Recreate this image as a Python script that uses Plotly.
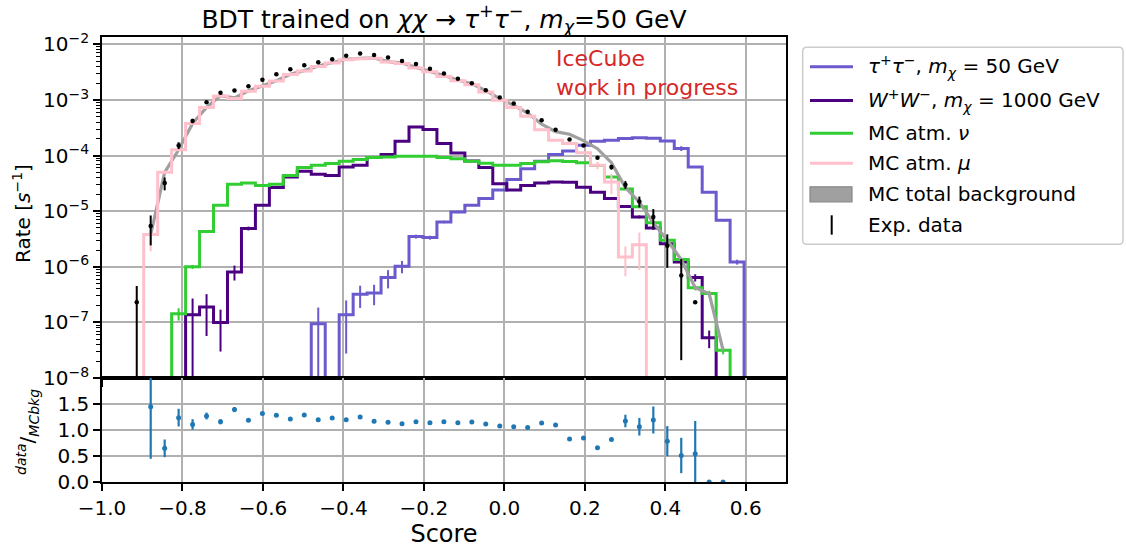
import numpy as np
import plotly.graph_objects as go
from plotly.subplots import make_subplots

# ---------------- data ----------------
BIN_LO, BIN_HI, N_BINS = -0.931, 0.5958, 44

tau_tau = [0, 0, 0, 0, 0, 0, 0, 0, 0, 0, 0, 0, 0, 9.5e-8, 0, 1.38e-7, 3.2e-7, 3.4e-7, 6.4e-7, 1.02e-6,
           3.5e-6, 3.35e-6, 6.4e-6, 9.7e-6, 1.28e-5, 1.69e-5, 2.4e-5, 3.7e-5, 5.8e-5, 7.9e-5,
           1.04e-4, 1.21e-4, 1.53e-4, 1.8e-4, 1.88e-4, 2.02e-4, 2.1e-4, 2.05e-4, 1.83e-4, 1.34e-4,
           6.2e-5, 2.2e-5, 6.9e-6, 1.22e-6]
tau_tau_relerr = [0]*13 + [0.95, 0, 0.8, 0.43, 0.4, 0.36, 0.25, 0.08, 0.08, 0.05, 0.05] + [0]*15 + [0.1, 0, 0, 0.05, 0.1]

ww = [0, 0, 0, 0, 1.38e-7, 1.9e-7, 1.0e-7, 8.1e-7, 4.9e-6, 1.28e-5, 2.66e-5, 4.1e-5, 5.2e-5, 4.6e-5,
      4.4e-5, 6.2e-5, 6.7e-5, 9.2e-5, 1.04e-4, 1.8e-4, 3.27e-4, 2.93e-4, 1.64e-4, 1.11e-4, 8.0e-5,
      6.1e-5, 3.1e-5, 2.4e-5, 2.9e-5, 3.2e-5, 3.35e-5, 3.3e-5, 2.7e-5, 2.2e-5, 1.69e-5, 1.22e-5,
      7.9e-6, 5.0e-6, 2.6e-6, 1.22e-6, 6.4e-7, 5.3e-8, 0, 0]
ww_relerr = [0, 0, 0, 0, 0.95, 0.7, 0.7, 0.3, 0.08] + [0]*27 + [0.06, 0.08, 0.1, 0.12, 0.15, 0.35, 0, 0]

atm_nu = [0, 0, 0, 1.44e-7, 1.0e-6, 4.3e-6, 1.28e-5, 3.05e-5, 3.2e-5, 2.9e-5, 3.05e-5, 4.4e-5, 6.1e-5,
          6.7e-5, 7.2e-5, 7.9e-5, 8.5e-5, 9.2e-5, 9.4e-5, 9.7e-5, 9.7e-5, 9.7e-5, 9.2e-5, 8.8e-5,
          7.9e-5, 7.3e-5, 6.7e-5, 6.7e-5, 7.2e-5, 7.7e-5, 8.1e-5, 7.8e-5, 7.4e-5, 6.6e-5, 4.1e-5,
          2.5e-5, 1.2e-5, 6.2e-6, 3.0e-6, 1.35e-6, 4.2e-7, 3.3e-7, 3.15e-8, 0]
atm_nu_relerr = [0, 0, 0, 0.25, 0.08] + [0]*32 + [0.05, 0.06, 0.08, 0.1, 0.12, 0.15, 0]

atm_mu = [0, 3.8e-6, 5.0e-5, 1.27e-4, 3.77e-4, 7.3e-4, 1.18e-3, 1.06e-3, 1.43e-3, 1.76e-3, 2.19e-3,
          2.85e-3, 3.3e-3, 4.0e-3, 4.6e-3, 5.3e-3, 5.5e-3, 5.6e-3, 4.8e-3, 4.5e-3, 3.75e-3, 3.2e-3,
          2.65e-3, 2.2e-3, 1.88e-3, 1.39e-3, 9.9e-4, 7.3e-4, 5.1e-4, 2.9e-4, 1.88e-4, 1.64e-4,
          1.12e-4, 6.7e-5, 3.35e-5, 1.5e-6, 2.5e-6, 0, 0, 0, 0, 0, 0, 0]
atm_mu_relerr = [0, 0.5, 0.05] + [0]*30 + [0.15, 0.4, 0.55, 0.65] + [0]*7

exp_data = [2.3e-7, 5.4e-6, 3.2e-5, 1.52e-4, 4.2e-4, 9.1e-4, 1.35e-3, 1.48e-3, 1.76e-3, 2.3e-3,
            2.88e-3, 3.55e-3, 4.2e-3, 4.74e-3, 5.4e-3, 6.2e-3, 6.8e-3, 6.4e-3, 5.8e-3, 5.0e-3,
            4.4e-3, 3.65e-3, 3.0e-3, 2.4e-3, 2.0e-3, 1.5e-3, 1.1e-3, 8.6e-4, 6.1e-4, 4.3e-4,
            2.9e-4, 1.95e-4, 1.51e-4, 9.1e-5, 6.2e-5, 3.0e-5, 1.5e-5, 7.9e-6, 2.4e-6, 7.0e-7,
            2.3e-7, 0, 0, 0]
exp_data_relerr = [0.97, 0.55, 0.26, 0.14, 0.09, 0.05, 0.04, 0.035, 0.02, 0.02] + [0.015]*20 + \
                  [0.03, 0.03, 0.03, 0.03, 0.1, 0.16, 0.22, 0.38, 0.6, 0.97, 0, 0, 0, 0]

ratio = [None, 1.446, 0.648, 1.239, 1.109, 1.27, 1.161, 1.394, 1.187, 1.317, 1.284, 1.213, 1.29,
         1.20, 1.232, 1.20, 1.251, 1.167, 1.148, 1.122, 1.161, 1.141, 1.161, 1.141, 1.154, 1.115,
         1.076, 1.064, 1.051, 1.135, 1.096, 0.83, 0.849, 0.661, 0.817, 1.174, 1.064, 1.193, 0.786,
         0.51, 0.545, 0.0, 0.0, None]
ratio_err = [0, 1.0, 0.17, 0.17, 0.1, 0.065, 0.05, 0.05, 0.02, 0.02] + [0.015]*21 + \
            [0.025, 0.025, 0.02, 0.025, 0.12, 0.17, 0.26, 0.29, 0.34, 0.63, 0, 0, 0]

x_ticks = [-1.0, -0.8, -0.6, -0.4, -0.2, 0.0, 0.2, 0.4, 0.6]
y_ticks = [1e-8, 1e-7, 1e-6, 1e-5, 1e-4, 1e-3, 1e-2]
y_ticktext = ["10<sup>−8</sup>", "10<sup>−7</sup>", "10<sup>−6</sup>", "10<sup>−5</sup>",
              "10<sup>−4</sup>", "10<sup>−3</sup>", "10<sup>−2</sup>"]
r_ticks = [0.0, 0.5, 1.0, 1.5]

legend_labels = [
    "<i>τ</i><sup>+</sup><i>τ</i><sup>−</sup>, <i>m</i><sub><i>χ</i></sub> = 50 GeV",
    "<i>W</i><sup>+</sup><i>W</i><sup>−</sup>, <i>m</i><sub><i>χ</i></sub> = 1000 GeV",
    "MC atm. <i>ν</i>",
    "MC atm. <i>μ</i>",
    "MC total background",
    "Exp. data",
]

# ---------------- styling ----------------
C_TAU = "#6A5ACD"
C_WW = "#4B0082"
C_NU = "#32CD32"
C_MU = "#FFC0CB"
C_TOT = "#a0a0a0"
GRID = "#b0b0b0"
FLOOR = 1e-12
LW = 3

W, H = 1126, 551
PL, PR, PT, PB = 102, 786, 37, 482   # plot area in pixels


def px(xp):
    return (xp - PL) / (PR - PL)


def py(yp):
    return (PB - yp) / (PB - PT)


edges = np.linspace(BIN_LO, BIN_HI, N_BINS + 1)
centers = 0.5 * (edges[:-1] + edges[1:])

fig = make_subplots(rows=2, cols=1, shared_xaxes=True, vertical_spacing=0,
                    row_heights=[0.7665, 0.2335])


def step_trace(vals, color):
    xs = [edges[0]]
    ys = [FLOOR]
    for i, v in enumerate(vals):
        xs.append(edges[i])
        ys.append(v if v > 0 else FLOOR)
    xs.append(edges[-1]); ys.append(vals[-1] if vals[-1] > 0 else FLOOR)
    xs.append(edges[-1]); ys.append(FLOOR)
    return go.Scatter(x=xs, y=ys, mode="lines", line=dict(color=color, width=LW, shape="hv"),
                      showlegend=False, hoverinfo="skip")


def err_trace(vals, rel, color):
    xs, ys, up, dn = [], [], [], []
    for c, v, r in zip(centers, vals, rel):
        if v > 0 and r > 0:
            xs.append(c); ys.append(v)
            up.append(v * r); dn.append(min(v * r, 0.995 * v))
    return go.Scatter(x=xs, y=ys, mode="markers", marker=dict(size=2, color="rgba(0,0,0,0)"),
                      error_y=dict(type="data", array=up, arrayminus=dn, symmetric=False,
                                   color=color, thickness=2, width=0),
                      showlegend=False, hoverinfo="skip")


for vals, rel, col in [(tau_tau, tau_tau_relerr, C_TAU), (ww, ww_relerr, C_WW),
                       (atm_nu, atm_nu_relerr, C_NU)]:
    fig.add_trace(step_trace(vals, col), row=1, col=1)
    fig.add_trace(err_trace(vals, rel, col), row=1, col=1)

tot = [m + n for m, n in zip(atm_mu, atm_nu)]
tx = [c for c, t in zip(centers, tot) if t > 0]
ty = [t for t in tot if t > 0]
fig.add_trace(go.Scatter(x=tx, y=ty, mode="lines", line=dict(color=C_TOT, width=3.2),
                         showlegend=False, hoverinfo="skip"), row=1, col=1)

fig.add_trace(step_trace(atm_mu, C_MU), row=1, col=1)
fig.add_trace(err_trace(atm_mu, atm_mu_relerr, C_MU), row=1, col=1)

dx, dy, dup, ddn = [], [], [], []
for c, v, r in zip(centers, exp_data, exp_data_relerr):
    if v > 0:
        dx.append(c); dy.append(v); dup.append(v * r); ddn.append(min(v * r, 0.995 * v))
fig.add_trace(go.Scatter(x=dx, y=dy, mode="markers", marker=dict(size=4.5, color="black"),
                         error_y=dict(type="data", array=dup, arrayminus=ddn, symmetric=False,
                                      color="black", thickness=2, width=0),
                         showlegend=False, hoverinfo="skip"), row=1, col=1)

rx = [c for c, r in zip(centers, ratio) if r is not None]
ry = [r for r in ratio if r is not None]
rup = [e for e, r in zip(ratio_err, ratio) if r is not None]
rdn = [min(e, r) for e, r in zip(ratio_err, ratio) if r is not None]
fig.add_hline(y=1.0, row=2, col=1, line=dict(color="rgba(255,40,40,0.85)", width=2, dash="15px,5px"))
fig.add_trace(go.Scatter(x=rx, y=ry, mode="markers", marker=dict(size=5, color="#1f77b4"),
                         error_y=dict(type="data", array=rup, arrayminus=rdn, symmetric=False,
                                      color="#1f77b4", thickness=2.2, width=0),
                         showlegend=False, hoverinfo="skip"), row=2, col=1)

axis_common = dict(showline=True, linecolor="black", linewidth=1.6, mirror=True,
                   ticks="outside", ticklen=7, tickwidth=1.6, tickcolor="black",
                   showgrid=True, gridcolor=GRID, gridwidth=1.6, zeroline=False,
                   automargin=False)

fig.update_xaxes(range=[-1.0, 0.7], tickmode="array", tickvals=x_ticks, tickformat=".1f",
                 **axis_common)
fig.update_xaxes(showticklabels=False, row=1, col=1)
fig.update_xaxes(title=dict(text="Score", standoff=2), row=2, col=1)

minor_vals = [k * 10.0 ** e for e in range(-8, -1) for k in range(2, 10) if k * 10.0 ** e < 0.0135]
fig.update_yaxes(type="log", range=[-8, -1.869], tickmode="array", tickvals=y_ticks,
                 ticktext=y_ticktext,
                 minor=dict(tickmode="array", tickvals=minor_vals, ticks="outside", ticklen=4,
                            tickwidth=1.2, tickcolor="black", showgrid=False),
                 **axis_common, row=1, col=1)
fig.update_yaxes(range=[0, 2.0], tickmode="array", tickvals=r_ticks,
                 ticktext=["0.0", "0.5", "1.0", "1.5"], **axis_common, row=2, col=1)

# y-axis titles
fig.add_annotation(x=px(22), y=py(214), xref="paper", yref="paper", xanchor="center",
                   yanchor="middle", textangle=-90, showarrow=False,
                   text="Rate [<i>s</i><sup>−1</sup>]", font=dict(size=20))
fig.add_annotation(x=px(27), y=py(432), xref="paper", yref="paper", xanchor="center",
                   yanchor="middle", textangle=-90, showarrow=False,
                   text="<sup><i>data</i></sup>/<sub><i>MCbkg</i></sub>", font=dict(size=20))

fig.add_annotation(x=px(554), y=py(44), xref="paper", yref="paper", xanchor="left", yanchor="top",
                   text="IceCube<br>work in progress", showarrow=False, align="left",
                   font=dict(size=22, color="#d62728"))

# ---------------- legend (drawn manually) ----------------
LX0, LX1, LY0, LY1, R = 802.7, 1123, 47.3, 244.3, 4
path = (f"M {px(LX0 + R)},{py(LY0)} L {px(LX1 - R)},{py(LY0)} Q {px(LX1)},{py(LY0)} {px(LX1)},{py(LY0 + R)} "
        f"L {px(LX1)},{py(LY1 - R)} Q {px(LX1)},{py(LY1)} {px(LX1 - R)},{py(LY1)} "
        f"L {px(LX0 + R)},{py(LY1)} Q {px(LX0)},{py(LY1)} {px(LX0)},{py(LY1 - R)} "
        f"L {px(LX0)},{py(LY0 + R)} Q {px(LX0)},{py(LY0)} {px(LX0 + R)},{py(LY0)} Z")
fig.add_shape(type="path", path=path, xref="paper", yref="paper",
              line=dict(color="#cccccc", width=1.5), fillcolor="white", layer="above")

row_y = [66.7, 100.5, 133.3, 163.3, 194.3, 225.0]
line_cols = [C_TAU, C_WW, C_NU, C_MU]
for yy, col in zip(row_y[:4], line_cols):
    fig.add_shape(type="line", xref="paper", yref="paper", x0=px(810), x1=px(853),
                  y0=py(yy), y1=py(yy), line=dict(color=col, width=LW), layer="above")
fig.add_shape(type="rect", xref="paper", yref="paper", x0=px(810), x1=px(852),
              y0=py(row_y[4] - 7.5), y1=py(row_y[4] + 7.5), fillcolor="#a0a0a0",
              line=dict(color="#888888", width=1.2), layer="above")
fig.add_shape(type="line", xref="paper", yref="paper", x0=px(831.7), x1=px(831.7),
              y0=py(row_y[5] - 9.7), y1=py(row_y[5] + 9.7), line=dict(color="black", width=2),
              layer="above")
for yy, lab in zip(row_y, legend_labels):
    fig.add_annotation(x=px(866), y=py(yy), xref="paper", yref="paper", xanchor="left",
                       yanchor="middle", text=lab, showarrow=False, font=dict(size=20))

fig.update_layout(
    width=W, height=H,
    margin=dict(l=PL, r=W - PR, t=PT, b=H - PB, autoexpand=False),
    paper_bgcolor="white", plot_bgcolor="white",
    font=dict(family="DejaVu Sans", size=20, color="black"),
    title=dict(text="BDT trained on <i>χχ</i> → <i>τ</i><sup>+</sup><i>τ</i><sup>−</sup>, "
                    "<i>m</i><sub><i>χ</i></sub>=50 GeV",
               x=0.5, xref="paper", y=1 - 19 / H, yanchor="middle", font=dict(size=25)),
    showlegend=False,
)

fig.write_html("out.html", post_script="document.body.style.margin='0px';",
               config={"displayModeBar": False})
